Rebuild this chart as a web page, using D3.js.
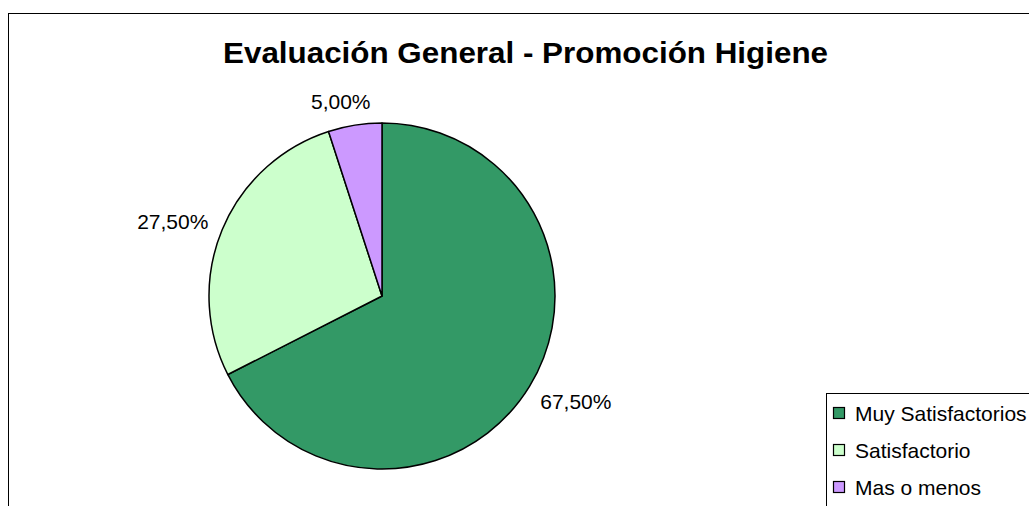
<!DOCTYPE html>
<html>
<head>
<meta charset="utf-8">
<script src="https://cdn.jsdelivr.net/npm/d3@7"></script>
<style>
  html, body { margin: 0; padding: 0; background: #fff; }
  svg { display: block; font-family: Arial, "Liberation Sans", sans-serif; }
</style>
</head>
<body>
<div id="chart"></div>
<script>
// Data
const categories = ['Muy Satisfactorios', 'Satisfactorio', 'Mas o menos'];
const values = [67.5, 27.5, 5.0];
const colors = ['#339966', '#CCFFCC', '#CC99FF'];
const chartTitle = 'Evaluación General - Promoción Higiene';

const W = 1029, H = 506;
const svg = d3.select('#chart').append('svg')
    .attr('width', W)
    .attr('height', H);

// chart area border (runs off right/bottom like the original)
svg.append('rect')
    .attr('x', 8.5).attr('y', 13.5)
    .attr('width', 1100).attr('height', 600)
    .attr('fill', '#fff')
    .attr('stroke', '#000')
    .attr('stroke-width', 1);

// Title
svg.append('text')
    .attr('x', 525.5)
    .attr('y', 63)
    .attr('text-anchor', 'middle')
    .style('font-size', '30px')
    .style('font-weight', 'bold')
    .attr('textLength', 605)
    .attr('lengthAdjust', 'spacingAndGlyphs')
    .text(chartTitle);

const cx = 382, cy = 296, r = 173;
const data = categories.map((c, i) => ({ name: c, value: values[i], color: colors[i] }));

const pie = d3.pie().value(d => d.value).sort(null);
const arc = d3.arc().innerRadius(0).outerRadius(r);
const arcs = pie(data);

const g = svg.append('g').attr('transform', `translate(${cx},${cy})`);

g.selectAll('path')
    .data(arcs)
    .enter()
    .append('path')
    .attr('d', arc)
    .attr('fill', d => d.data.color)
    .attr('stroke', '#000')
    .attr('stroke-width', 1.5)
    .attr('stroke-linejoin', 'round');

// Percentage labels outside the pie
const fmt = v => v.toFixed(2).replace('.', ',') + '%';
const labelEdge = r + 13;
const labelTurn = -3 * Math.PI / 180; // Excel sets labels a little counter-clockwise
g.selectAll('.lbl')
    .data(arcs)
    .enter()
    .append('text')
    .attr('class', 'lbl')
    .attr('text-anchor', 'middle')
    .attr('dominant-baseline', 'central')
    .style('font-size', '21px')
    .text(d => fmt(d.data.value))
    .each(function(d) {
        const a0 = (d.startAngle + d.endAngle) / 2;
        const s0 = Math.sin(a0), c0 = Math.cos(a0);
        const w = this.getComputedTextLength();
        const R = labelEdge + (w / 2) * Math.abs(s0) + 8 * Math.abs(c0);
        const a = a0 + labelTurn;
        d3.select(this)
            .attr('x', R * Math.sin(a))
            .attr('y', -R * Math.cos(a));
    });

// Legend
const legend = svg.append('g');
legend.append('rect')
    .attr('x', 826.5).attr('y', 393.5)
    .attr('width', 300).attr('height', 200)
    .attr('fill', '#fff')
    .attr('stroke', '#000')
    .attr('stroke-width', 1);

const rows = legend.selectAll('.row')
    .data(data)
    .enter()
    .append('g')
    .attr('transform', (d, i) => `translate(833, ${413 + i * 37})`);

rows.append('rect')
    .attr('x', 0.5).attr('y', -5.5)
    .attr('width', 11).attr('height', 11)
    .attr('fill', d => d.color)
    .attr('stroke', '#000')
    .attr('stroke-width', 1.2);

rows.append('text')
    .attr('x', 22)
    .attr('y', 0)
    .attr('dominant-baseline', 'central')
    .style('font-size', '21px')
    .text(d => d.name);
</script>
</body>
</html>
